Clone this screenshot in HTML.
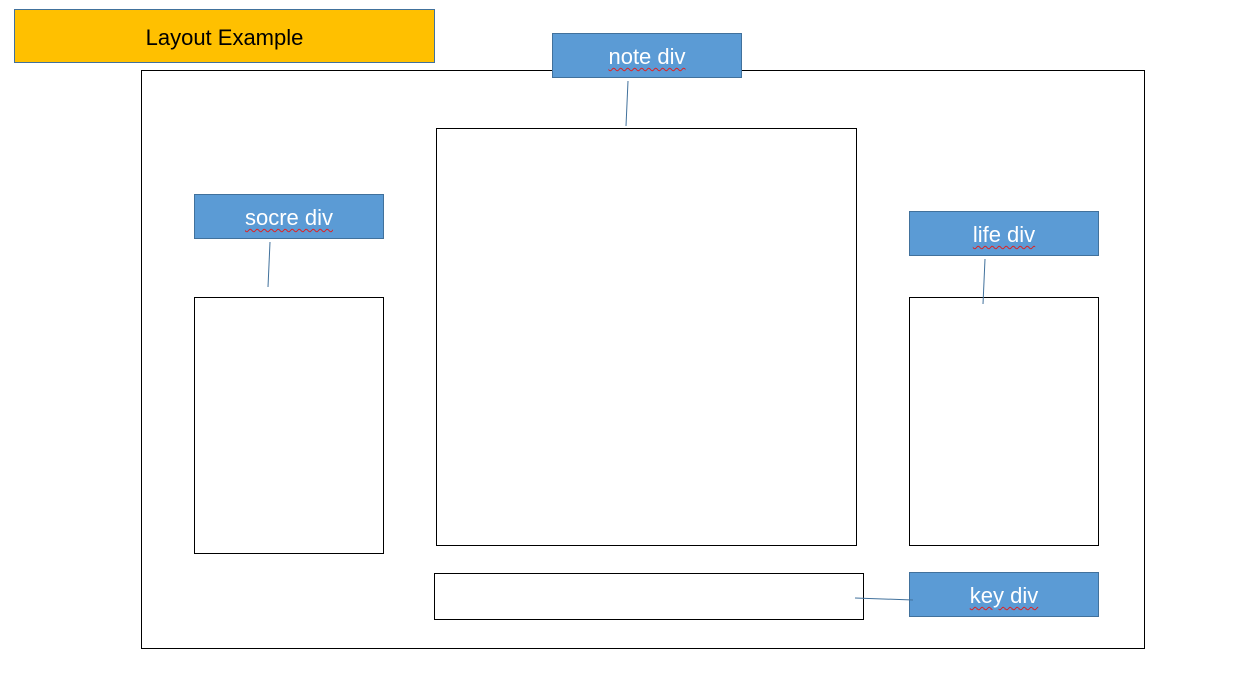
<!DOCTYPE html>
<html><head><meta charset="utf-8"><style>
body{margin:0;width:1253px;height:684px;background:#fff;position:relative;overflow:hidden;font-family:"Liberation Sans","Noto Sans CJK KR",sans-serif}
.b{position:absolute;box-sizing:border-box;border:1px solid #000;background:#fff}
.l{position:absolute;box-sizing:border-box;background:#5B9BD5;border:1px solid #41719C;color:#fff;font-size:22px;text-align:center;line-height:46px}
.l span{text-decoration:underline wavy #e02020 1px;text-underline-offset:3px}
</style></head><body>
<div class="b" style="left:14px;top:9px;width:421px;height:54px;background:#FFC000;border-color:#41719C;font-size:22px;text-align:center;line-height:55px">Layout Example</div>
<div class="b" style="left:141px;top:70px;width:1004px;height:579px"></div>
<div class="b" style="left:436px;top:128px;width:421px;height:418px"></div>
<div class="b" style="left:194px;top:297px;width:190px;height:257px"></div>
<div class="b" style="left:909px;top:297px;width:190px;height:249px"></div>
<div class="b" style="left:434px;top:573px;width:430px;height:47px"></div>
<div class="l" style="left:552px;top:33px;width:190px;height:45px"><span>note div</span></div>
<div class="l" style="left:194px;top:194px;width:190px;height:45px"><span>socre div</span></div>
<div class="l" style="left:909px;top:211px;width:190px;height:45px"><span>life div</span></div>
<div class="l" style="left:909px;top:572px;width:190px;height:45px"><span>key div</span></div>
<svg width="1253" height="684" style="position:absolute;left:0;top:0" stroke="#41719C" stroke-width="1">
<line x1="628" y1="81" x2="626" y2="126"/>
<line x1="270" y1="242" x2="268" y2="287"/>
<line x1="985" y1="259" x2="983" y2="304"/>
<line x1="855" y1="598" x2="913" y2="600"/>
</svg>
</body></html>
